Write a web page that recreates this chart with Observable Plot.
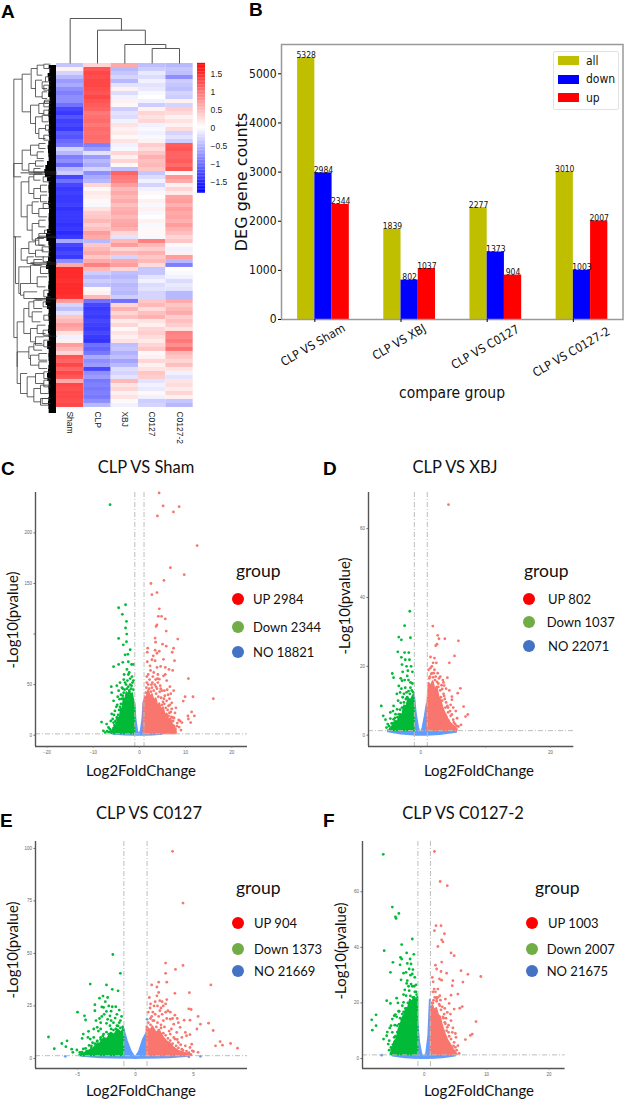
<!DOCTYPE html>
<html><head><meta charset="utf-8">
<script src="https://cdn.jsdelivr.net/npm/d3@7"></script>
<script src="https://cdn.jsdelivr.net/npm/@observablehq/plot@0.6"></script>
<style>
html,body{margin:0;padding:0;background:#fff}
#page{position:relative;width:625px;height:1099px;overflow:hidden;background:#fff}
#page svg{position:absolute;overflow:visible;background:transparent;max-width:none}
.t{position:absolute;white-space:nowrap;color:#111;font-family:Lato,sans-serif;line-height:1}
.d{position:absolute;border-radius:50%}
</style></head><body><div id="page"></div>
<script>
// ---------- Panel A: heatmap ----------
const samples = ["Sham","CLP","XBJ","C0127","C0127-2"];
const sham = [-.4,.1,-.3,-.5,-.7,-.6,-.8,-.9,-.8,-.8,
 -1,-1.3,-1.4,-1.2,-1.35,-1.3,-1.4,-1.15,-1.2,-1.05,
 -.95,-.3,-.5,-.9,-.8,-1.05,-.5,-.35,-1.3,-1,
 -1.3,-1.4,-1.35,-1.4,-1.4,-1.35,-1.45,-1.4,-1.4,-1.4,-1.45,-1.4,
 -1.5,-1.4,-.6,-1.3,-1.4,-1.3,-1.4,-.8,.6,1.5,
 1.5,1.5,1.45,1.5,1.5,1.5,1.45,.7,-.3,-.45,
 -.2,.4,.5,.7,.6,.2,-.1,.1,.7,.5,
 .3,1.2,1.1,1.3,1.1,1.3,1.2,.6,1.3,1.25,
 1.3,1.3,1.25,1.3];
const clp = [.3,1.2,1.3,1.25,1.3,1.3,1.25,1.2,1.3,1.2,
 1.15,1.1,.95,1,1.05,.95,1.05,1,1.05,1,
 -.9,-.7,-.2,-.7,-.5,-.6,-.3,-.8,-.6,-.5,
 .3,.05,.15,.1,.05,-.05,.2,.35,.4,.5,.35,.45,
 .7,.6,-.5,.4,.5,.6,.4,.6,.9,.5,
 -.35,-.5,-.35,-.45,.05,.1,.5,-1,-1.3,-1.4,
 -1.35,-1.4,-1.3,-1.35,-1.4,-1.3,-1.4,-1.45,-1,-1.1,
 -.95,-.6,-.8,-.7,-1.3,-.8,-.7,-.95,-.9,-.95,
 -.9,-.95,-.8,-.5];
const xbj = [.6,-.5,-.4,-.3,-.5,-.2,.1,-.25,-.1,.1,
 .05,-.35,-.2,-.25,-.1,.2,.1,.15,.05,.2,
 -.1,-.05,.3,.1,.3,.05,-.45,1.1,.95,.9,
 .7,.5,.6,.5,.6,.45,.55,.6,.5,.6,.65,.55,
 .3,-.2,.5,.7,.3,.5,-.3,.6,.7,.3,
 -.45,-.5,-.4,-.5,-.45,-.5,-.35,-1,.3,.55,
 .3,.45,.15,.3,.05,.2,.1,.2,-.45,-.4,
 -.55,-.45,-.65,-.5,-.25,-.3,-.2,.5,.2,.3,
 .1,.2,.05,-.1];
const c0127 = [-.45,-.35,-.15,-.25,-.1,-.2,-.15,-.05,0,-.1,
 -.35,.1,.3,.2,.3,-.1,-.05,-.1,-.05,.1,
 .35,.25,.4,.55,.45,.5,.4,-.4,-.25,-.1,
 -.3,-.1,.05,0,.1,-.05,.1,-.05,0,.1,-.05,.05,
 .05,-.05,.9,.5,.35,.55,.4,.5,.25,-.4,
 -.4,-.2,-.1,-.25,-.2,-.3,-.3,.4,.5,.25,
 .45,.55,.2,.1,.3,.35,.25,.15,.3,.4,
 .05,.1,.3,.1,.2,.4,.35,-.2,-.1,-.15,
 .05,-.1,-.35,-.3];
const c01272 = [-.5,-.4,-.45,-.8,-.35,-.4,-.45,-.3,-.35,.1,
 -.3,.35,.25,.1,.2,.1,.25,-.3,-.2,-.35,
 1.15,1.2,1.1,1.1,1.15,1.05,1.2,.05,.75,.6,
 .1,.3,.15,.65,.7,.55,.7,.6,.65,.55,.7,.55,
 .45,.3,.4,.05,-.1,.1,.7,-.5,-.9,0,
 -.05,-.1,-.25,-.15,-.2,-.5,-.5,.6,.4,.5,
 .6,.35,.45,.35,.2,.9,.85,.95,.8,1,
 .5,.4,.3,.45,.2,-.1,-.2,.2,.25,.15,
 .3,.1,-.4,-.5];
const heatColumns = [sham,clp,xbj,c0127,c01272];
const colorTicks = [-1.5,-1,-.5,0,.5,1,1.5];
const sampleTree = [[4,0,5,0,15],[3,0,4.5,15,19],[2,0,3.75,19,33.3],[1,0,2.875,33.3,45]];
const geneTree = [[40,237,65,1012,50],[40,490,65,530,62],[40,710,45,710,45],[45,710,62,850,55],
[65,222,90,335,90],[92,205,110,265,105],[110,195,130,225,125],[105,240,125,290,125],[125,245,135,265,140],[125,275,140,295,140],[130,192,150,205,150],
[90,315,115,370,105],[115,310,130,340,130],[105,350,125,400,115],[125,345,145,365,145],[115,385,135,415,135],[130,305,150,320,150],[130,330,150,345,150],
[65,450,90,510,85],[90,435,115,465,110],[85,490,105,515,100],[115,430,135,445,135],[110,455,130,475,130],[105,482,130,498,130],[100,505,120,518,125],
[62,545,85,650,80],[85,530,100,580,100],[100,522,125,540,120],[100,565,120,595,120],[80,615,95,690,95],[95,605,115,640,115],[95,670,115,720,115],[120,555,140,575,140],[120,585,140,605,140],[115,625,140,650,140],[115,660,135,680,135],[115,700,135,735,135],
[62,745,85,780,80],[85,725,105,760,105],[80,770,100,790,100],[105,715,130,735,130],[105,750,130,770,130],[100,778,125,795,125],
[55,800,90,880,60],[90,795,120,850,110],[60,850,90,885,70],[120,800,145,820,145],[110,830,140,860,135],[70,875,110,895,110],
[50,965,70,1100,50],[70,925,85,1000,90],[85,905,100,950,95],[100,900,125,925,125],[95,935,125,965,120],[90,985,110,1025,105],[110,975,135,1000,135],[105,1010,130,1035,130],
[50,1055,85,1150,60],[85,1040,100,1075,90],[60,1120,80,1180,80],[80,1130,105,1190,100],[100,1030,125,1050,125],[90,1065,115,1095,115],[115,1060,140,1080,140],[115,1085,140,1105,140],[105,1120,130,1150,130],[100,1165,120,1205,120],[130,1115,150,1135,150],[130,1140,150,1160,150],[120,1155,150,1180,145],[120,1195,145,1215,145],
[135,230,150,245,150],[130,255,150,270,150],[132,300,150,310,150],[135,375,150,390,150],[130,405,150,420,150],[128,530,150,545,150],[128,610,150,625,150],[132,690,150,700,150],[125,740,150,755,150],[128,770,150,785,150],[130,870,150,890,150],[128,905,150,920,150],[130,945,150,960,150],[128,990,150,1005,150],[130,1020,150,1040,150],[125,1195,150,1210,150]];
const leafRays = [[100,515],[60,518],[85,522],[115,708],[110,712],[90,788],[95,792],[100,895],[105,899],[130,1008]];
const leafEdge = [142,150,146,140,150,144,148,142,147,150,
 144,149,142,148,144,150,143,148,145,150,
 140,146,142,148,144,138,134,132,138,144,
 148,142,149,144,147,142,150,144,148,143,149,142,
 140,136,142,148,144,149,142,146,134,142,
 148,144,149,142,147,144,140,136,138,144,
 148,142,149,144,146,142,149,144,139,144,
 148,142,149,144,146,142,140,144,148,142,
 149,144,146,142,148,144];

// ---------- Panel B: bars ----------
const comparisons = ["CLP VS Sham","CLP VS XBJ","CLP VS C0127","CLP VS C0127-2"];
const allCounts = [5328,1839,2277,3010];
const downCounts = [2984,802,1373,1003];
const upCounts = [2344,1037,904,2007];
const barTicks = [0,1000,2000,3000,4000,5000];

// ---------- Volcano panels: scattered genes [log2FC, -log10 p] and dense envelopes ----------
const upC = [[4.26,239.6],[5.13,226.7],[8.6,226],[7.36,220.8],[3.9,216.8],[12.5,187.5],[6.7,165.7],[9.7,158.7],[5.3,153],[2.5,150],[3.8,141],[2.7,139],[4.3,125],[4.1,117.5],[4.8,117.5],[5.6,115],[3.8,109],[3.6,107.6],[5.8,103],[3.4,96],[8.3,95],[3.5,92],[5,90],[5.8,88],[7.4,86],[1.8,86],[1.7,82],[3.4,84],[4.3,83],[7.1,82],[3.8,81],[3,78.5],[2.7,74.6],[3.4,73.6],[1.7,72.6],[5.2,75],[7.6,73.6],[2.3,68.6],[3.8,67],[5.6,67],[6.4,65],[7.2,64],[1.9,60],[4,60],[5.2,58.7],[10.6,56],[1.6,52],[4.3,55.4],[5.9,54],[6.6,48],[7.4,44],[9.9,38],[11.6,38],[16,36],[9.5,33.7],[7.9,27],[11.3,23],[10.5,19],[11.9,19],[10.6,16],[11.1,12.5],[8.8,14],[9.2,12.5],[7.7,22],[7.2,17.5],[8.1,9],[7,7.6],[5.4,44],[6.2,40],[2.6,50],[3.6,48],[4.6,46],[5.3,36],[6.6,30],[7,26],[6.3,19],
 [1.4,42],[1.5,47],[1.8,40],[1.9,50],[2.1,46],[2.2,55],[2.5,43],[2.7,47],[2.8,52],[2.9,58],[3.1,44],[3.3,50],[3.5,55],[3.6,41],[3.8,46],[4,52],[4.1,38],[4.4,43],[4.5,49],[4.7,37],[4.9,44],[5.1,33],[5.4,31],[5.5,39],[5.7,27],[5.9,34],[6.1,25],[6.3,29],[6.5,22],[6.8,23],[6.9,18],[7.3,14],[7.5,17],[8.2,12],[8.6,8],[9,5],[8.5,15],[6.5,36],[7,32],[6,45],[6.8,41],[3.1,62],[2.4,64],[4.6,68],[3.9,56],[5.6,60],[1.6,58],[4.9,30],[6,12],[7.8,6]];
const downC = [[-6.35,228],[-3,129],[-4.5,126],[-3.7,119.5],[-2.8,112.5],[-3,106],[-4.5,95.7],[-2.75,100],[-2.8,92.4],[-3.5,89.4],[-2,84.5],[-3.1,79.5],[-2.5,80],[-2.4,72.6],[-1.7,70],[-3.6,72],[-4.5,70],[-5.6,67.7],[-1.3,70],[-2.7,65],[-2.4,60],[-2,56],[-4.2,52],[-3.1,52],[-6.1,48],[-4.9,49],[-6,42],[-4.5,44],[-1.7,49],[-5.6,34],[-4.3,35.6],[-5.3,24],[-6,21],[-8.2,13],[-7.1,11],[-6.7,7.6],[-7.8,4.3],[-6.4,6],[-5.6,12.5],[-4.9,17.5],[-7.4,2.6],[-3.6,46],[-2.6,54],[-3.3,60],[-4.8,30],[-4,40],[-5,28],[-5.8,16],[-7,4],
 [-1.3,45],[-1.5,52],[-1.8,46],[-2,50],[-2.2,44],[-2.4,48],[-2.7,46],[-2.9,50],[-3.2,45],[-3.4,42],[-3.6,39],[-3.8,36],[-4,31],[-4.2,28],[-4.4,25],[-4.6,20],[-4.8,16],[-5,12],[-5.2,14],[-5.4,10],[-5.6,7],[-5.8,5],[-6.2,4],[-6.6,3],[-3.8,47],[-4.7,38],[-3.4,55],[-2.2,62],[-1.6,58],[-1.3,54],[-5.5,20],[-6.2,14],[-5,6],[-4.4,10]];
const massUpC = [[1,31],[1.3,38],[1.6,34],[2,44],[2.4,36],[2.8,40],[3.2,33],[3.6,36],[4,28],[4.4,31],[4.8,24],[5.2,27],[5.6,19],[6,21],[6.4,14],[6.8,16],[7.2,10],[7.6,9],[8,3]];
const massDownC = [[-6,3],[-5.6,5],[-5.2,9],[-4.8,8],[-4.5,17],[-4.2,14],[-3.9,26],[-3.6,24],[-3.3,36],[-3,33],[-2.7,42],[-2.4,37],[-2.1,44],[-1.8,38],[-1.5,41],[-1.2,33],[-1,30]];
const blueC = [[-5.6,1.3,1],[-3,1.3,.2],[-1,1.3,0],[-1,31,0],[-.75,15,0],[-.4,4,0],[-.15,1.3,0],[.15,1.3,0],[.4,4,0],[.75,15,0],[1,32,0],[1,1.3,0],[3,1.3,.2],[5,1.3,1]];

const upD = [[4.27,67],[1.85,31.7],[2.6,29],[2.8,28],[3.7,28],[5.8,27.4],[2.5,26.4],[2.3,26],[5.2,23],[1.5,22.7],[2.1,22.4],[1.9,21],[2.4,21],[4.4,21],[2.1,19],[1.75,18],[1.4,17],[2.3,17],[2.8,16.5],[4.1,16.7],[3.5,15.3],[3.3,13.4],[6.1,13.6],[5.7,12.2],[4.8,11.2],[4.8,10.3],[6.6,8.3],[3.3,10],[3.8,8],[7.25,6],[6.9,5.4],[5.6,4.9],[6.2,3],[4.6,5.6],[5.1,3.7],[4.2,6.6],[5.5,2.7],[4.3,4.2],[3.1,11],[3.6,11.4],[2.7,15],[4.1,8.5],
 [1.3,16.5],[1.6,17.8],[1.9,16.8],[2.2,16],[2.5,15.5],[2.7,14],[3,13],[3.2,14.5],[3.5,12],[3.7,10.5],[3.9,9.5],[4.2,8],[4.5,7],[4.8,6],[5,4.5],[5.3,3.2],[5.8,2.5],[1.5,19.5],[1.7,20],[2,18],[3.4,16],[2.6,18],[3,17],[1.2,19],[4.4,13],[3.9,13.5],[3.6,14.4],[5,8],[5.4,7],[4.6,8.8]];
const downD = [[-1.7,36],[-2.5,31.8],[-3.4,28.5],[-3,27.7],[-1.6,28.3],[-3.55,24.2],[-2.5,24],[-1.85,24],[-3,22.6],[-2.4,21.9],[-1.75,21.9],[-4.4,17.9],[-2.8,18.4],[-2,18.7],[-1.3,18.4],[-4.2,16.7],[-2.9,15.8],[-2.1,17.2],[-1.6,15.3],[-3.4,14.3],[-2.4,13.8],[-3.2,12.4],[-1.6,13.8],[-6.1,8.5],[-3.5,10],[-4.2,8.5],[-5.8,5.6],[-4.7,6.6],[-5.45,4.5],[-4.7,4.8],[-3.65,7.5],[-4.2,4.6],[-5.3,2.2],[-5.1,3.2],[-3.4,6.1],[-3.9,6.1],[-2.8,11],[-3.1,9.4],[-2.2,12.4],[-4.5,3.4],
 [-1.2,12.5],[-1.4,13],[-1.7,12],[-1.9,12.8],[-2.1,11],[-2.3,10.5],[-2.6,9.5],[-2.9,8],[-3.2,7.4],[-3.6,5.2],[-4,5],[-4.4,3.5],[-1.3,15],[-1.9,16],[-2.5,16],[-2.6,12],[-3.7,12],[-3,13.5],[-4.9,2.6],[-4.3,7],[-3.1,16.5],[-2.2,20],[-1.5,20],[-2.9,20.5]];
const massUpD = [[1.08,9],[1.3,15],[1.6,14],[1.9,15.5],[2.2,13],[2.5,14],[2.8,11],[3.1,10],[3.4,8],[3.7,6.5],[4,5.5],[4.4,3.8],[4.8,3],[5.6,1.7]];
const massDownD = [[-4.7,1.7],[-4.3,2.5],[-3.9,4],[-3.5,3.8],[-3.1,6],[-2.8,5.6],[-2.5,8.5],[-2.2,8],[-1.85,10.5],[-1.5,10],[-1.1,11.5],[-1,9]];
const blueD = [[-5,1.3,1],[-3,1.3,.3],[-1,1.3,0],[-1,12,0],[-.7,6,0],[-.35,2,0],[-.05,.5,0],[.05,.5,0],[.35,2,0],[.7,5.5,0],[1,9,0],[1,1.3,0],[3,1.3,.2],[5.5,1.3,.8]];

const upE = [[3.2,98.6],[4.1,74],[4.1,44.3],[2.6,45.4],[3.45,42.4],[2.6,40.5],[1.4,35],[2,36.3],[2.7,36.3],[1.85,34],[6.5,35],[2,31.4],[3.4,31],[4.65,31.3],[1.26,24],[2.1,27.5],[2.7,28],[2.6,26],[4.6,23.6],[4.8,23.3],[5.4,20],[3.4,20.6],[4.2,18.2],[4.7,18.2],[5.6,16.3],[6.3,16.8],[5.3,14],[6.7,13.3],[3.85,14.8],[4.3,12.4],[3.3,16.3],[3,18.7],[4.7,11.3],[4.4,10.8],[4,10],[7.3,8],[8.2,7.1],[7.5,6.3],[6.9,6],[8.8,4.9],[4.85,6.8],[4.3,6],[4.7,5.2],[5.4,2.9],[5,3.3],[3.7,7.6],[4,4.4],[3.4,9.2],[3.1,14],[2.4,18],[2.8,22.7],[1.7,21],[2.1,22.7],[2.4,25],[1.6,25],[1.85,29.8],[3,11.6],[3.56,12.4],[1.3,19],[1.6,18],[2,20],[2.2,16],[2.7,19],[1.3,26],[2.3,27],
 [1.1,17],[1.3,16],[1.4,20],[1.5,18],[1.8,15],[1.9,17],[2,13.5],[2.2,14.5],[2.4,12],[2.5,15],[2.6,11],[2.8,9.5],[2.9,13],[3,8.5],[3.2,7],[3.3,10],[3.5,6],[3.7,5],[3.9,6.5],[4.1,3.8],[4.4,3.5],[4.6,2.8],[4.9,3.6],[3.6,9],[2.2,24],[1.5,22],[1.1,22],[1.9,25],[2.6,22],[3,22],[3.7,17],[3.6,19],[1.2,29],[1.7,27],[2.3,21],[3.2,19]];
const downE = [[-1.95,49.5],[-1.3,40.5],[-3.9,35.4],[-2.5,35],[-2,32.9],[-1.5,32.2],[-2.8,29.7],[-3.1,28.7],[-2.4,29],[-2.6,27],[-3.5,25.6],[-2,24.6],[-1.7,24.6],[-2.75,24.3],[-2.5,22.4],[-3.5,22.7],[-5,22],[-4.4,20.3],[-4.3,18.3],[-2.2,20.3],[-1.75,19.2],[-3,17],[-2.5,16.7],[-1.3,18],[-4.05,12.9],[-4.5,11.6],[-3.3,14.8],[-3.6,10],[-3.9,9.2],[-4.6,9.5],[-7.5,10.2],[-5.9,8.4],[-6.35,7.1],[-7,4.6],[-6,5.6],[-5.5,4.4],[-5.05,4],[-5.4,2.9],[-4.8,2.9],[-4.3,4.8],[-3.8,6],[-3.3,8.4],[-2.75,11.6],[-3,10],[-2.2,15.6],[-1.6,15.6],[-2.9,20],[-2.1,18],[-3.2,13],[-1.4,17],[-2.4,18.6],[-3.7,7.5],[-4.5,4.5],
 [-1.1,15],[-1.3,14.5],[-1.5,15.5],[-1.7,14],[-1.9,13.5],[-2.1,14],[-2.3,11.5],[-2.5,12.5],[-2.8,10.8],[-3,9],[-3.3,8],[-3.5,7],[-3.8,5],[-4,6.2],[-4.2,3.6],[-4.6,3],[-1.2,20],[-1.6,21],[-2.3,25],[-3.1,19],[-3.4,18],[-2.7,21],[-1.9,17],[-2.1,22.5],[-1.4,23],[-3.6,14],[-4.1,10],[-3,14],[-2.9,24.5]];
const massUpE = [[1,15],[1.3,13],[1.5,15],[1.8,12],[2.1,13],[2.4,10],[2.7,8],[3,7],[3.3,5],[3.7,3.5],[4.2,2.5],[4.85,1.7]];
const massDownE = [[-4.8,1.7],[-4.4,2.3],[-4,3.5],[-3.6,4.5],[-3.3,6.5],[-3,7],[-2.7,9.5],[-2.4,9],[-2.1,12],[-1.8,11],[-1.5,13.5],[-1.2,12],[-1,14]];
const blueE = [[-4.6,1.3,1],[-3,1.3,.3],[-1,1.3,.1],[-1,14,.1],[-.7,8,.1],[-.35,3,.1],[-.05,.5,0],[.05,.5,0],[.35,3,.1],[.7,9,.1],[1,12,.1],[1,1.3,.1],[3,1.3,.3],[4.6,1.3,1]];
const looseE = [[-6.05,1],[5.6,1],[4.6,.8],[1,18.7]];

const upF = [[1.65,74.5],[2.56,63.7],[3.7,62.2],[1.9,47.8],[2.7,47.8],[1.65,46],[3.25,44.9],[2.8,42.7],[3,42],[2.2,40.3],[4.3,38],[4.8,37],[2.8,34.7],[1.8,33.6],[2,32.2],[5.9,31.6],[2.7,31.3],[7,30.3],[9.07,29.5],[3.6,30.7],[1.3,29.2],[2.45,28.6],[4.6,28],[2.8,28.2],[1.45,27.6],[6.2,27.5],[4.5,26.2],[1.6,25],[5.4,23.2],[4.3,22.8],[3.4,21.4],[2.5,22.6],[6.1,18.7],[5.7,18.1],[4.8,17.8],[4,19.8],[8.3,13.3],[3.7,16.6],[3.2,16],[4.3,13.6],[7.7,8.8],[7.4,8.3],[6.6,6.8],[5.1,7.6],[4.8,5.8],[5.4,4.6],[5.2,3],[5.6,1.8],[3.7,11.2],[4.5,9.4],[2.4,19.6],[1.9,22],[1.4,20],[2,20.6],[2.9,18.6],[3.1,14.5],[3.9,9.4],[3.4,12.5],
 [1.2,20],[1.5,21],[1.7,22],[2,21.5],[2.2,22],[2.5,19],[2.7,17.5],[3,15],[3.3,13],[3.6,10],[4,8],[4.3,7],[4.7,4.5],[5,4],[2.6,21],[1.4,24],[3.3,18],[3.5,14.5],[3.9,12],[4.6,11],[5,9],[4.2,16],[1.8,24],[2.2,25]];
const downF = [[-6.55,73.5],[-5.1,54.5],[-4.05,52.2],[-4.6,51],[-4.5,50.4],[-1.9,43],[-3.6,41],[-6.4,38.8],[-2.8,38],[-1.65,37.5],[-3.8,36.4],[-3.6,35.8],[-5,34.6],[-2.25,35.8],[-2.7,34.2],[-2.1,34],[-3.85,33.7],[-2.4,32.2],[-5.4,31],[-3.3,30.7],[-1.9,30.4],[-1.5,29.2],[-3.7,28.3],[-2.7,28],[-2.1,26.8],[-3.1,24.7],[-2.4,24.4],[-4.4,21.7],[-6,20.8],[-5.4,19.8],[-2.9,22.6],[-3.3,20.2],[-7.7,15.7],[-8.4,13.9],[-7.7,11.8],[-8.3,10.2],[-4.8,15.4],[-4.4,15],[-3.85,14.5],[-5.1,14.2],[-5.3,11.8],[-4.3,11.8],[-6.5,7],[-6,8.2],[-5.6,6.4],[-5.1,9.4],[-4.8,7.6],[-5.75,5.2],[-5.3,4],[-3.5,16],[-1.3,24],[-1.6,26],[-3.3,23],[-4.1,17],[-4.7,12],
 [-1.2,23],[-1.5,24],[-1.8,22],[-2.2,22.5],[-2.6,20],[-3,18],[-3.3,16.8],[-3.6,14],[-4,12.4],[-4.3,9.5],[-4.6,8],[-5,5],[-5.2,3.4],[-1.3,26.5],[-1.9,26],[-2.5,26],[-2.8,27],[-2.2,30],[-3.5,19],[-4,17],[-4.6,15.8],[-3.4,12],[-5.6,3],[-5.9,9.5],[-5.5,11],[-4.2,20],[-1.8,32],[-2.9,31]];
const massUpF = [[1,17],[1.4,19],[1.7,17],[2,18],[2.3,15.5],[2.6,15],[2.9,12],[3.2,10],[3.5,8],[3.8,6.5],[4.2,5],[4.6,3.5],[5.3,1.3]];
const massDownF = [[-5.3,1.6],[-5,3],[-4.7,6],[-4.3,7],[-4,10.5],[-3.7,12],[-3.4,14.5],[-3.1,15.5],[-2.8,18],[-2.5,18],[-2.2,21],[-1.9,20],[-1.5,22],[-1.2,20.5],[-1,22]];
const blueF = [[-5,1.3,.9],[-3,1.3,.3],[-1,1.3,0],[-1,13,0],[-.75,6,0],[-.4,1.6,0],[-.1,.6,0],[.1,.6,0],[.4,1.6,0],[.75,8,0],[1,21,0],[1,1.3,0],[3,1.3,.3],[5,1.3,.9]];
const looseF = [[-6.8,1.2]];

const legendC = ["UP 2984","Down 2344","NO 18821"];
const legendD = ["UP 802","Down 1037","NO 22071"];
const legendE = ["UP 904","Down 1373","NO 21669"];
const legendF = ["UP 1003","Down 2007","NO 21675"];

// ---------- helpers ----------
const page = document.getElementById("page");
function place(svg,left,top){svg.style.left=left+"px";svg.style.top=top+"px";page.appendChild(svg);return svg;}
function txt(s,x,y,o={}){
  const e=document.createElement("div");e.className="t";e.textContent=s;
  e.style.left=x+"px";e.style.top=y+"px";
  e.style.fontSize=(o.size||12)+"px";
  if(o.font)e.style.fontFamily=o.font;
  if(o.bold)e.style.fontWeight="bold";
  if(o.color)e.style.color=o.color;
  e.style.transform=(o.center?"translate(-50%,-50%) ":"translateY(-50%) ")+(o.rot?`rotate(${o.rot}deg)`:"");
  page.appendChild(e);return e;
}
function dot(x,y,d,c){const e=document.createElement("div");e.className="d";
  e.style.cssText=`left:${x-d/2}px;top:${y-d/2}px;width:${d}px;height:${d}px;background:${c}`;page.appendChild(e);}
function bracketSegments(rows){return rows.flatMap(([a,b,c,d,h])=>[
  {x1:a,y1:b,x2:a,y2:h},{x1:c,y1:d,x2:c,y2:h},{x1:a,y1:h,x2:c,y2:h}]);}
function geneSegments(rows){return rows.flatMap(([h,y1,e1,y2,e2])=>[
  {x1:h,y1:y1,x2:h,y2:y2},{x1:h,y1:y1,x2:e1,y2:y1},{x1:h,y1:y2,x2:e2,y2:y2}]);}

// ---------- Panel A ----------
const cells = heatColumns.flatMap((vals,c)=>vals.map((v,r)=>({sample:samples[c],row:r,v})));
const heatColor = {type:"linear",domain:[-1.8,0,1.8],range:["#0000ff","#ffffff","#ff0000"],interpolate:"rgb"};
place(Plot.plot({width:136.7,height:344+38,marginLeft:0,marginRight:0,marginTop:0,marginBottom:38,
  x:{domain:samples,padding:0,round:false,axis:null},
  y:{domain:d3.range(86),padding:0,round:false,axis:null},
  color:heatColor,
  marks:[
    Plot.cell(cells,{x:"sample",y:"row",fill:"v"}),
    ...samples.map(s=>Plot.text([s],{x:d=>d,frameAnchor:"bottom",dy:4,rotate:90,textAnchor:"start",lineAnchor:"middle",text:d=>d,fontSize:8.5,fontFamily:"Liberation Sans",fill:"#222"}))
  ]}),56,63);
place(Plot.plot({width:136.7,height:63,marginLeft:0,marginRight:0,marginTop:0,marginBottom:0,
  x:{domain:[.5,5.5],axis:null},y:{domain:[0,63],axis:null},
  marks:[Plot.link(bracketSegments(sampleTree),{x1:"x1",y1:"y1",x2:"x2",y2:"y2",stroke:"#555",strokeWidth:1})]}),56,0);
place(Plot.plot({width:56,height:344,marginLeft:0,marginRight:0,marginTop:0,marginBottom:0,
  x:{domain:[0,168],axis:null},y:{domain:[1222,190],axis:null},
  marks:[
    Plot.areaX(leafEdge,{y:(d,i)=>190+12*i+6,x1:d=>d,x2:()=>168,fill:"#000",curve:"step"}),
    Plot.link(leafRays,{x1:d=>d[0],x2:()=>168,y1:d=>d[1],y2:d=>d[1],stroke:"#222",strokeWidth:.8}),
    Plot.link(geneSegments(geneTree),{x1:"x1",y1:"y1",x2:"x2",y2:"y2",stroke:"#3c3c3c",strokeWidth:.8})
  ]}),0,63);
place(Plot.plot({width:8,height:129,marginLeft:0,marginRight:0,marginTop:0,marginBottom:0,
  x:{domain:[0,1],axis:null},y:{domain:[-1.78,1.8],axis:null},color:heatColor,
  marks:[
    Plot.rect(d3.range(-1.8,1.8,.04),{x1:()=>0,x2:()=>1,y1:d=>d,y2:d=>d+.045,fill:d=>d}),
    Plot.axisY(colorTicks,{anchor:"right",tickSize:0,tickPadding:5,fontSize:8.5,fontFamily:"Liberation Sans",fill:"#222",label:null,tickFormat:d=>String(d).replace("-","\u2212")})
  ]}),197,63.3);

// ---------- Panel B ----------
const barRows = comparisons.flatMap((c,i)=>[
  {i,lo:i-.2,hi:i,v:allCounts[i],k:"all"},
  {i,lo:i,hi:i+.2,v:downCounts[i],k:"down"},
  {i,lo:i+.2,hi:i+.4,v:upCounts[i],k:"up"}]);
const barFill={all:"#bfbf00",down:"#0000ff",up:"#ff0000"};
const condensed='"DejaVu Sans Condensed","DejaVu Sans",sans-serif';
const labelDy=[29,26,31,36];
place(Plot.plot({width:395,height:420,marginLeft:51,marginRight:2.5,marginTop:44,marginBottom:101,
  x:{domain:[-.387,3.576],axis:null},
  y:{domain:[0,5597],axis:null},
  marks:[
    Plot.rectY(barRows,{x1:"lo",x2:"hi",y1:()=>0,y2:"v",fill:d=>barFill[d.k]}),
    Plot.text(barRows,{x:d=>(d.lo+d.hi)/2,y:"v",text:d=>String(d.v),lineAnchor:"bottom",fontSize:8.5,fontFamily:condensed,fill:"#111",dy:0}),
    Plot.frame({stroke:"#999",strokeWidth:1.5}),
    Plot.axisY(barTicks,{anchor:"left",tickSize:3,tickPadding:2,fontSize:12,fontFamily:condensed,fill:"#111",label:null,tickFormat:d=>String(d)}),
    Plot.axisX([0,1,2,3],{anchor:"bottom",tickSize:3,tickFormat:()=>"",label:null}),
    ...comparisons.map((c,i)=>Plot.text([c],{x:()=>i,frameAnchor:"bottom",dy:labelDy[i],rotate:-30,text:d=>d,fontSize:12,fontFamily:condensed,fill:"#111"}))
  ]}),230,0);
txt("compare group",452,394,{size:15.5,font:condensed,center:true});
txt("DEG gene counts",242,182,{size:16,font:'"DejaVu Sans"',center:true,rot:-90});
const box=document.createElement("div");
box.style.cssText="position:absolute;left:553px;top:51px;width:64px;height:57px;background:#fff;border:1px solid #e2e2e2;border-radius:2px";page.appendChild(box);
[["all",barFill.all,60.5],["down",barFill.down,79],["up",barFill.up,97.5]].forEach(([n,c,y])=>{
  const s=document.createElement("div");s.style.cssText=`position:absolute;left:558px;top:${y-4.5}px;width:20.5px;height:9px;background:${c}`;page.appendChild(s);
  txt(n,586,y,{size:12,font:condensed});
});

// ---------- Volcano panels ----------
const GREEN="#00ba38",RED="#f8766d",BLUE="#619cff";
function volcano(o){
  const mx=30,my=5,w=o.right-o.left,h=o.bottom-o.top;
  const xy={x:d=>d[0],y:d=>d[1],r:1.4};
  const env=(arr,c)=>Plot.areaY(arr,{x:d=>d[0],y1:d=>d[2]===undefined?1.3:d[2],y2:d=>d[1],fill:c,stroke:c,strokeWidth:2});
  place(Plot.plot({width:w+mx+8,height:h+my+14,marginLeft:mx,marginRight:8,marginTop:my,marginBottom:14,
    x:{domain:o.xd,axis:null},y:{domain:o.yd,axis:null},
    marks:[
      env(o.blue,BLUE),
      Plot.dot(o.loose||[],{...xy,fill:BLUE}),
      env(o.massUp,RED),env(o.massDown,GREEN),
      Plot.dot(o.up,{...xy,fill:RED}),
      Plot.dot(o.down,{...xy,fill:GREEN}),
      Plot.ruleX([-1,1],{stroke:"#bdbdbd",strokeWidth:1,strokeDasharray:"5 2 1 2"}),
      Plot.ruleY([1.3],{stroke:"#bdbdbd",strokeWidth:1,strokeDasharray:"5 2 1 2"}),
      Plot.ruleX([o.xd[0]],{stroke:"#555",strokeWidth:1.4}),
      Plot.ruleY([o.yd[0]],{stroke:"#555",strokeWidth:1.4}),
      Plot.axisX(o.xt,{anchor:"bottom",tickSize:1.5,tickPadding:3,fontSize:4.5,fill:"#666",stroke:"#666",label:null,fontFamily:"Liberation Sans",tickFormat:d=>o.xl===undefined||o.xl.includes(d)?String(d).replace("-","\u2212"):""}),
      Plot.axisY(o.yt,{anchor:"left",tickSize:1.5,tickPadding:2,fontSize:4.5,fill:"#666",stroke:"#666",label:null,fontFamily:"Liberation Sans",tickFormat:d=>o.yl===undefined||o.yl.includes(d)?String(d):""})
    ]}),o.left-mx,o.top-my);
  txt(o.title,o.titleX,o.titleY,{size:16.5,center:true});
  txt("Log2FoldChange",o.xlabX,o.xlabY,{size:15,center:true});
  txt("-Log10(pvalue)",o.ylabX,o.ylabY,{size:15,center:true,rot:-90});
  txt("group",o.groupX,o.groupY,{size:17.5});
  const cols=["#ff0000","#70ad47","#4472c4"];
  o.legend.forEach((s,i)=>{dot(o.dotX,o.dotY[i],12,cols[i]);txt(s,o.labX[i],o.dotY[i],{size:13});});
}
volcano({left:35.3,right:247.3,top:491.7,bottom:745.7,xd:[-22.5,23.4],yd:[-11.2,240],
  xt:[-20,-10,0,10,20],yt:[0,50,100,150,200],yl:[0,50,150,200],
  up:upC,down:downC,massUp:massUpC,massDown:massDownC,blue:blueC,
  title:"CLP VS Sham",titleX:146,titleY:467,xlabX:141,xlabY:770,ylabX:12,ylabY:620,
  groupX:236,groupY:571,dotX:238,dotY:[599,627,652],labX:[253,253,253],legend:legendC});
volcano({left:368,right:573.3,top:491.7,bottom:745.7,xd:[-8.07,23.6],yd:[-3.3,70.5],
  xt:[0,10,20],yt:[0,20,40,60],xl:[0,20],
  up:upD,down:downD,massUp:massUpD,massDown:massDownD,blue:blueD,
  title:"CLP VS XBJ",titleX:455,titleY:467,xlabX:479,xlabY:770,ylabX:344,ylabY:606,
  groupX:524,groupY:571,dotX:528.7,dotY:[599,622,645.7],labX:[548,546.7,548],legend:legendD});
volcano({left:35.3,right:247.3,top:840.7,bottom:1067.7,xd:[-8.62,9.66],yd:[-4.8,103.3],
  xt:[-5,0,5],yt:[0,25,50,75,100],
  up:upE,down:downE,massUp:massUpE,massDown:massDownE,blue:blueE,loose:looseE,
  title:"CLP VS C0127",titleX:149,titleY:813,xlabX:141,xlabY:1090,ylabX:12,ylabY:950,
  groupX:236,groupY:888,dotX:238,dotY:[922.7,949,970.7],labX:[254,254,254],legend:legendE});
volcano({left:361.7,right:564.3,top:840.7,bottom:1067.7,xd:[-9.87,22.56],yd:[-3.6,78.1],
  xt:[0,10,20],yt:[0,20,40,60],
  up:upF,down:downF,massUp:massUpF,massDown:massDownF,blue:blueF,loose:looseF,
  title:"CLP VS C0127-2",titleX:463,titleY:813,xlabX:479,xlabY:1090,ylabX:340,ylabY:951,
  groupX:535,groupY:888,dotX:532,dotY:[922.7,949,970.7],labX:[548,546.7,546.7],legend:legendF});

// ---------- panel letters ----------
const letters=[["A",1,11],["B",249,9],["C",1,468],["D",323,468],["E",0,820],["F",323,820]];
letters.forEach(([s,x,y])=>txt(s,x,y,{size:19,bold:true,font:'"Liberation Sans",sans-serif',color:"#000"}));
</script></body></html>
